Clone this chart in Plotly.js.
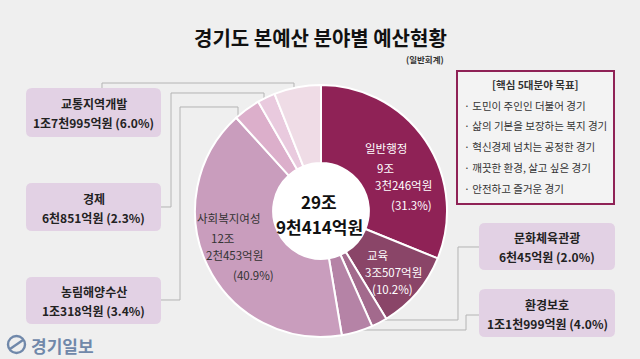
<!DOCTYPE html>
<html>
<head>
<meta charset="utf-8">
<script src="https://cdn.plot.ly/plotly-3.0.1.min.js"></script>
<style>html,body{margin:0;padding:0;background:#efefef;}#chart{width:640px;height:359px;}</style>
</head>
<body>
<div id="chart"></div>
<script>
// ---- data ----
const categories = ['일반행정','교육','문화체육관광','환경보호','사회복지여성','농림해양수산','경제','교통지역개발'];
const amounts = [93246, 30507, 6045, 11999, 122453, 10318, 6851, 17995]; // 억원
const amountLines = [['9조','3천246억원'],['3조507억원'],['6천45억원'],['1조1천999억원'],['12조','2천453억원'],['1조318억원'],['6천851억원'],['1조7천995억원']];
const shareLabels = ['31.3%','10.2%','2.0%','4.0%','40.9%','3.4%','2.3%','6.0%'];
const sliceColors = ['#8f2256','#8a4568','#a36a8d','#b583a6','#c99dbd','#dcafcb','#e9cade','#efdce6'];
const totalLines = ['29조','9천414억원'];
const chartTitle = '경기도 본예산 분야별 예산현황';
const subTitle = '(일반회계)';
const goalsTitle = '[핵심 5대분야 목표]';
const goals = ['도민이 주인인 더불어 경기','삶의 기본을 보장하는 복지 경기','혁신경제 넘치는 공정한 경기','깨끗한 환경, 살고 싶은 경기','안전하고 즐거운 경기'];
const brand = '경기일보';

// ---- helpers ----
const W = 640, H = 359;
const X = p => p / W, Y = p => 1 - p / H;
const FONT = 'Noto Sans CJK KR, Noto Sans, sans-serif';

function roundRect(x0, y0, x1, y1, r, fill, line, lw) {
  const P = (x, y) => X(x).toFixed(5) + ',' + Y(y).toFixed(5);
  const path = 'M' + P(x0 + r, y0) + ' L' + P(x1 - r, y0) + ' Q' + P(x1, y0) + ' ' + P(x1, y0 + r) +
    ' L' + P(x1, y1 - r) + ' Q' + P(x1, y1) + ' ' + P(x1 - r, y1) +
    ' L' + P(x0 + r, y1) + ' Q' + P(x0, y1) + ' ' + P(x0, y1 - r) +
    ' L' + P(x0, y0 + r) + ' Q' + P(x0, y0) + ' ' + P(x0 + r, y0) + ' Z';
  return {type: 'path', xref: 'paper', yref: 'paper', path: path, fillcolor: fill,
    line: {color: line || fill, width: lw || 0}, layer: 'below'};
}
function polyline(pts, color, width) {
  const path = pts.map((p, i) => (i ? 'L' : 'M') + X(p[0]).toFixed(5) + ',' + Y(p[1]).toFixed(5)).join(' ');
  return {type: 'path', xref: 'paper', yref: 'paper', path: path, line: {color: color || '#b4b4b4', width: width || 1}, layer: 'below'};
}
function txt(x, y, text, size, color, bold, align) {
  return {xref: 'paper', yref: 'paper', x: X(x), y: Y(y), xanchor: align || 'center', yanchor: 'middle',
    text: bold ? '<b>' + text + '</b>' : text, showarrow: false,
    font: {family: FONT, size: size, color: color || '#222'}};
}

// ---- pie geometry ----
const cx = 321, cy = 211, R = 126;

const shapes = [];
const annotations = [];

// connectors
shapes.push(polyline([[102, 88], [102, 83], [294, 83], [294, 120]]));          // 교통지역개발
shapes.push(polyline([[161, 207], [171, 207], [171, 93], [264, 93], [264, 120]])); // 경제
shapes.push(polyline([[161, 300], [180, 300], [180, 107], [238, 107], [238, 130]])); // 농림해양수산
shapes.push(polyline([[479, 247], [458, 247], [458, 320], [370, 320]]));        // 문화체육관광
shapes.push(polyline([[479, 315], [466, 315], [466, 330], [350, 330]]));        // 환경보호

// white hole
shapes.push({type: 'circle', xref: 'paper', yref: 'paper', x0: X(cx - 50), x1: X(cx + 50), y0: Y(cy + 50), y1: Y(cy - 50),
  fillcolor: '#ffffff', line: {width: 0}, layer: 'below'});

// category boxes (outside labels)
const boxFill = '#e2d1e4';
const boxes = [
  {i: 7, x0: 26, y0: 88, x1: 161, y1: 137},
  {i: 6, x0: 26, y0: 183, x1: 161, y1: 231},
  {i: 5, x0: 26, y0: 277, x1: 161, y1: 324},
  {i: 2, x0: 479, y0: 223, x1: 615, y1: 270},
  {i: 3, x0: 479, y0: 289, x1: 615, y1: 337}
];
boxes.forEach(b => {
  shapes.push(roundRect(b.x0, b.y0, b.x1, b.y1, 6, boxFill));
  const mx = (b.x0 + b.x1) / 2, my = (b.y0 + b.y1) / 2;
  annotations.push(txt(mx, my - 9, categories[b.i], 12, '#222', true));
  annotations.push(txt(mx, my + 10, amountLines[b.i].join('') + ' (' + shareLabels[b.i] + ')', 12, '#222', true));
});

// goals box
shapes.push({type: 'rect', xref: 'paper', yref: 'paper', x0: X(457), x1: X(614), y0: Y(204), y1: Y(71),
  fillcolor: '#f3f3f3', line: {color: '#8f2256', width: 2}, layer: 'below'});
annotations.push(txt(535, 85, goalsTitle, 10.5, '#333', true));
goals.forEach((g, k) => annotations.push(txt(462, 105 + k * 20.8, '· ' + g, 10.5, '#333', false, 'left')));

// inside slice labels
const w = '#ffffff';
annotations.push(txt(386, 148, categories[0], 11.5, w));
annotations.push(txt(375, 168, amountLines[0][0], 11.5, w, false, 'left'));
annotations.push(txt(403, 185, amountLines[0][1], 11.5, w));
annotations.push(txt(411, 205, '(' + shareLabels[0] + ')', 11.5, w));
annotations.push(txt(377, 255, categories[1], 11.5, w));
annotations.push(txt(393, 272, amountLines[1][0], 11.5, w));
annotations.push(txt(392, 289, '(' + shareLabels[1] + ')', 11.5, w));
const d = '#333333';
annotations.push(txt(228, 218, categories[4], 11.5, d));
annotations.push(txt(209, 238, amountLines[4][0], 11.5, d, false, 'left'));
annotations.push(txt(234, 255, amountLines[4][1], 11.5, d));
annotations.push(txt(253, 275, '(' + shareLabels[4] + ')', 11.5, d));

// center total
annotations.push(txt(cx - 2, 201, totalLines[0], 17, '#111', true));
annotations.push(txt(cx - 2, 226, totalLines[1], 17, '#111', true));

// title
annotations.push(txt(320, 37, chartTitle, 20, '#111', true));
annotations.push(txt(425, 59, subTitle, 8.5, '#333', true));

// brand logo
shapes.push({type: 'circle', xref: 'paper', yref: 'paper', x0: X(8), x1: X(25), y0: Y(353), y1: Y(336),
  fillcolor: 'rgba(0,0,0,0)', line: {color: '#7088aa', width: 2.4}, layer: 'below'});
shapes.push(polyline([[10, 349], [23, 340]], '#7088aa', 2.4));
annotations.push(txt(29, 345, brand, 17, '#7088aa', true, 'left'));

const trace = {
  type: 'pie',
  labels: categories,
  values: amounts,
  sort: false,
  direction: 'clockwise',
  rotation: 0,
  hole: 0.38,
  marker: {colors: sliceColors, line: {color: '#ffffff', width: 2}},
  textinfo: 'none',
  hoverinfo: 'label+percent',
  showlegend: false,
  domain: {x: [X(cx - R), X(cx + R)], y: [Y(cy + R), Y(cy - R)]}
};

const layout = {
  width: W, height: H,
  margin: {l: 0, r: 0, t: 0, b: 0},
  paper_bgcolor: '#efefef',
  plot_bgcolor: '#efefef',
  showlegend: false,
  shapes: shapes,
  annotations: annotations
};

Plotly.newPlot('chart', [trace], layout, {displayModeBar: false, staticPlot: true});
</script>
</body>
</html>
